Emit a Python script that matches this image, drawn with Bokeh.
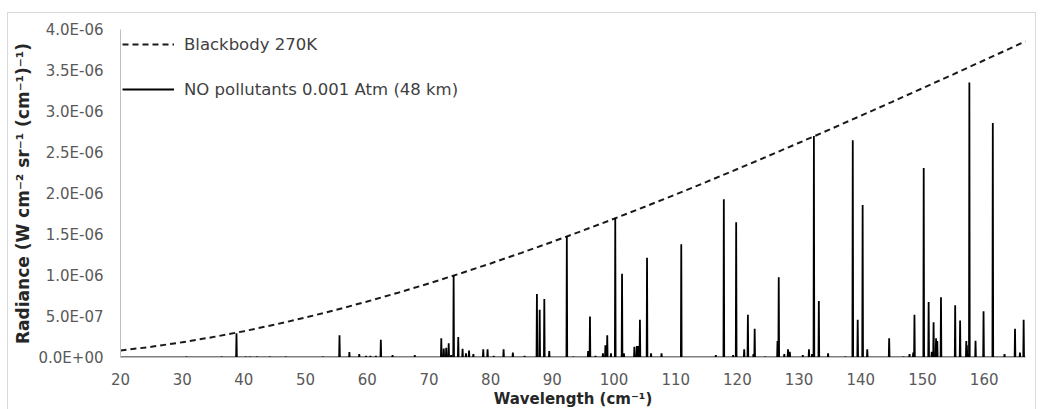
from bokeh.plotting import figure
from bokeh.models import (Range1d, FixedTicker, CustomJSTickFormatter, Legend,
                          LegendItem)
from bokeh.embed import file_html
from bokeh.resources import INLINE

# ---- data ----
bb_wavenumber = [20, 25, 30, 35, 40, 45, 50, 55, 60, 65, 70, 75, 80, 85, 90, 95,
                 100, 105, 110, 115, 120, 125, 130, 135, 140, 145, 150, 155,
                 160, 165, 166.7]
bb_radiance = [8.47e-8, 1.306e-7, 1.855e-7, 2.490e-7, 3.208e-7, 4.005e-7,
               4.876e-7, 5.818e-7, 6.828e-7, 7.902e-7, 9.035e-7, 1.0226e-6,
               1.1471e-6, 1.2765e-6, 1.4108e-6, 1.5494e-6, 1.6921e-6,
               1.8386e-6, 1.9887e-6, 2.1420e-6, 2.2982e-6, 2.4572e-6,
               2.6186e-6, 2.7822e-6, 2.9478e-6, 3.1151e-6, 3.2838e-6,
               3.4538e-6, 3.6249e-6, 3.7967e-6, 3.855e-6]

no_line_wavenumber = [30.7, 36.4, 38.8, 40.3, 41.0, 42.1, 44.2, 46.8, 52.8, 55.5,
                      57.1, 58.7, 59.8, 60.5, 61.4, 62.2, 64.1, 67.7, 72.0, 72.4,
                      72.8, 73.2, 73.6, 74.0, 74.75, 75.45, 76.0, 76.5, 77.2, 78.8,
                      79.5, 80.5, 82.1, 83.6, 85.5, 87.5, 87.95, 88.7, 89.5, 92.35,
                      93.4, 95.8, 96.1, 97.0, 98.2, 98.6, 98.9, 99.5, 100.2, 101.3,
                      101.6, 103.3, 103.7, 104.0, 104.2, 105.35, 106.0, 107.7, 110.9,
                      116.5, 117.8, 119.3, 119.8, 121.1, 121.7, 122.6, 122.8, 124.5,
                      126.5, 126.7, 127.6, 128.2, 128.5, 130.6, 131.6, 132.1, 132.4,
                      133.2, 134.7, 137.5, 138.7, 139.5, 140.3, 141.05, 144.6, 146.9,
                      147.9, 148.5, 148.7, 150.2, 151.0, 151.5, 151.8, 152.2, 152.4,
                      153.0, 155.3, 156.1, 157.1, 157.2, 157.6, 158.6, 159.9, 161.4,
                      163.3, 165.0, 165.8, 166.4]
no_line_radiance = [1e-8, 1e-8, 2.97e-7, 1e-8, 1e-8, 1e-8, 1e-8, 1e-8, 1e-8, 2.70e-7,
                    6.5e-8, 4e-8, 2e-8, 2e-8, 2e-8, 2.16e-7, 3e-8, 3e-8, 2.36e-7, 1.1e-7,
                    1.2e-7, 1.75e-7, 3e-8, 1.00e-6, 2.5e-7, 1.06e-7, 5e-8, 8.5e-8, 4e-8, 1.0e-7,
                    1.0e-7, 2e-8, 1.0e-7, 6e-8, 2e-8, 7.75e-7, 5.83e-7, 7.13e-7, 8e-8, 1.48e-6,
                    1e-8, 8e-8, 5.0e-7, 2e-8, 5e-8, 1.5e-7, 2.7e-7, 5e-8, 1.70e-6, 1.02e-6,
                    5e-8, 1.3e-7, 1.4e-7, 1.4e-7, 4.6e-7, 1.215e-6, 5e-8, 5e-8, 1.38e-6,
                    3e-8, 1.93e-6, 3e-8, 1.65e-6, 1.0e-7, 5.2e-7, 4e-8, 3.5e-7, 1e-8,
                    2.0e-7, 9.8e-7, 4e-8, 1.0e-7, 7e-8, 3e-8, 1.0e-7, 4e-8, 2.70e-6,
                    6.9e-7, 5e-8, 1e-8, 2.65e-6, 4.6e-7, 1.86e-6, 1.0e-7, 2.36e-7, 1e-8,
                    4e-8, 6e-8, 5.2e-7, 2.31e-6, 6.76e-7, 7e-8, 4.3e-7, 2.36e-7, 2.0e-7,
                    7.34e-7, 6.36e-7, 4.5e-7, 2.0e-7, 1.5e-7, 3.355e-6, 2.04e-7, 5.63e-7, 2.86e-6,
                    4e-8, 3.5e-7, 6e-8, 4.6e-7]

x_start, x_end = 20, 166.7
x_ticks = [20, 30, 40, 50, 60, 70, 80, 90, 100, 110, 120, 130, 140, 150, 160]
y_ticks = [0, 0.5e-6, 1.0e-6, 1.5e-6, 2.0e-6, 2.5e-6, 3.0e-6, 3.5e-6, 4.0e-6]

# spectrum trace: baseline with narrow emission lines
half_w = 0.06
spec_x = [x_start]
spec_y = [0.0]
for wn, rad in zip(no_line_wavenumber, no_line_radiance):
    spec_x += [wn - half_w, wn, wn + half_w]
    spec_y += [0.0, rad, 0.0]
spec_x.append(x_end)
spec_y.append(0.0)

FONT = "DejaVu Sans"

p = figure(width=1029, height=397, output_backend="svg", toolbar_location=None,
           x_range=Range1d(x_start, x_end), y_range=Range1d(0, 4e-6),
           min_border_left=112, min_border_right=12, min_border_top=16,
           min_border_bottom=53)
p.margin = (12, 0, 0, 7)
p.styles = {"border-top": "1px solid #d9d9d9", "border-left": "1px solid #d9d9d9",
            "border-right": "1px solid #d9d9d9"}
p.outline_line_color = None
p.grid.visible = False
p.background_fill_color = "white"
p.border_fill_color = "white"

bb = p.line(bb_wavenumber, bb_radiance, line_dash="6 4", line_width=2,
            line_color="#1a1a1a")
no = p.line(spec_x, spec_y, line_width=1.8, line_color="black")

# axes
p.xaxis.ticker = FixedTicker(ticks=x_ticks)
p.yaxis.ticker = FixedTicker(ticks=y_ticks)
p.yaxis.formatter = CustomJSTickFormatter(code="""
    const s = tick.toExponential(1);
    const parts = s.split('e');
    let n = parseInt(parts[1]);
    const sign = n < 0 ? '-' : '+';
    n = Math.abs(n);
    return parts[0] + 'E' + sign + (n < 10 ? '0' : '') + n;
""")
for ax in (p.xaxis[0], p.yaxis[0]):
    ax.major_tick_line_color = None
    ax.minor_tick_line_color = None
    ax.major_tick_out = 0
    ax.major_tick_in = 0
    ax.axis_line_color = "#bfbfbf"
    ax.major_label_text_font = FONT
    ax.major_label_text_font_size = "15px"
    ax.major_label_text_color = "#595959"
    ax.axis_label_text_font = FONT
    ax.axis_label_text_font_style = "bold"
    ax.axis_label_text_color = "#262626"

p.xaxis.axis_label_text_font_size = "15px"
p.yaxis.axis_label_text_font_size = "17px"
p.xaxis.major_label_standoff = 15
p.xaxis.axis_label = "Wavelength (cm⁻¹)"
p.xaxis.axis_label_standoff = 2
p.yaxis.major_label_standoff = 17
p.yaxis.axis_label = "Radiance (W cm⁻² sr⁻¹ (cm⁻¹)⁻¹)"
p.yaxis.axis_label_standoff = 3

legend = Legend(items=[LegendItem(label="Blackbody 270K", renderers=[bb]),
                       LegendItem(label="NO pollutants 0.001 Atm (48 km)", renderers=[no])],
                location=(2, 257), glyph_width=52, glyph_height=22, label_height=22,
                spacing=23, padding=0, margin=0, label_standoff=10,
                border_line_alpha=0, background_fill_alpha=0,
                label_text_font=FONT, label_text_font_size="16.5px",
                label_text_color="#404040")
p.add_layout(legend)

open("out.html", "w").write(file_html(p, INLINE))
